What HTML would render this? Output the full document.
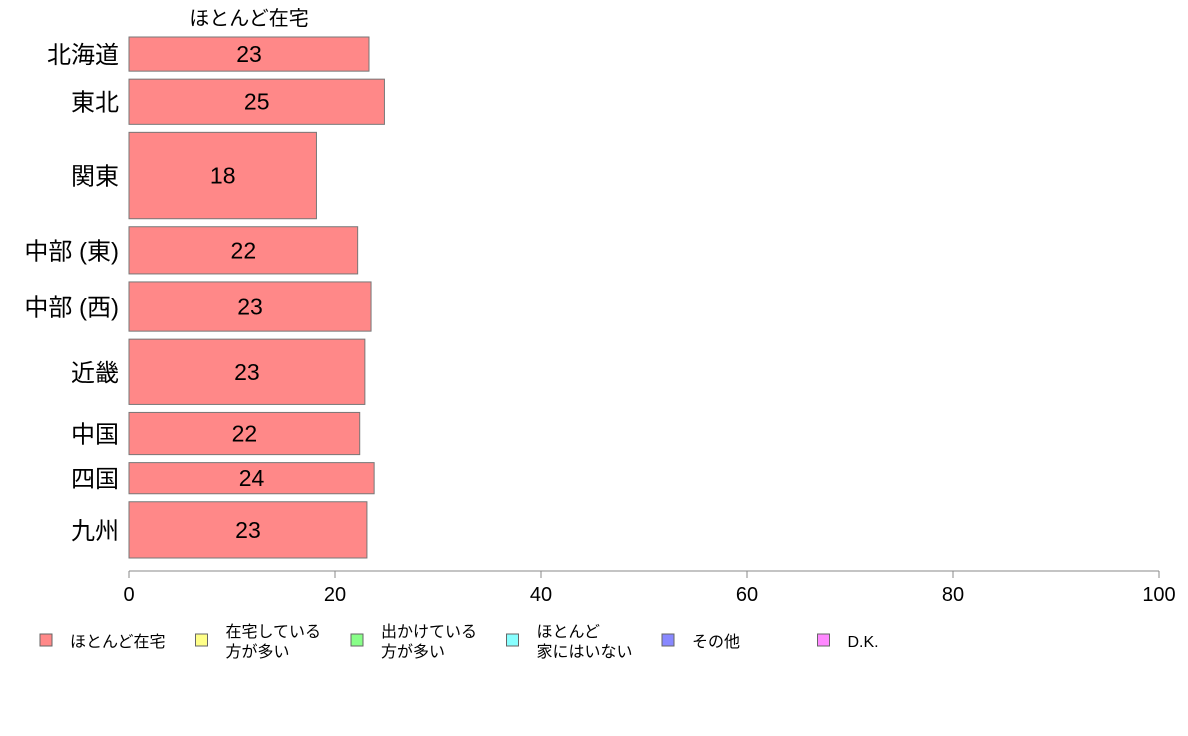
<!DOCTYPE html>
<html><head><meta charset="utf-8">
<style>
body{margin:0;background:#fff;}
svg{display:block;font-family:"Liberation Sans","Noto Sans CJK JP",sans-serif;}
</style></head>
<body>
<svg id="chart" width="1188" height="736">
<text x="249" y="25" text-anchor="middle" font-size="20">ほとんど在宅</text>
<g id="bars"></g>
<g id="axis"></g>
<g id="legend"></g>
</svg>
<script>
const categories = ["北海道","東北","関東","中部 (東)","中部 (西)","近畿","中国","四国","九州"];
const values = [23.3,24.8,18.2,22.2,23.5,22.9,22.4,23.8,23.1];
const labels = ["23","25","18","22","23","23","22","24","23"];
const sampleSizes = [34,45,86,47,49,65,42,31,56];
const ticks = [0,20,40,60,80,100];
const legendLabels = [["ほとんど在宅"],["在宅している","方が多い"],["出かけている","方が多い"],["ほとんど","家にはいない"],["その他"],["D.K."]];
const legendColors = ["#ff8888","#ffff88","#88ff88","#88ffff","#8888ff","#ff88ff"];

const NS="http://www.w3.org/2000/svg";
const x0=129,x1=1159,yTop=37,yBot=558,gap=8;
const xs=v=>x0+(v/100)*(x1-x0);
const total=sampleSizes.reduce((a,b)=>a+b,0);
const avail=(yBot-yTop)-gap*(categories.length-1);
const bars=document.getElementById('bars');
let y=yTop;
categories.forEach((c,i)=>{
  const h=sampleSizes[i]/total*avail;
  const r=document.createElementNS(NS,'rect');
  r.setAttribute('x',x0);r.setAttribute('y',y);
  r.setAttribute('width',xs(values[i])-x0);r.setAttribute('height',h);
  r.setAttribute('fill','#ff8888');r.setAttribute('stroke','#777');
  
  
  bars.appendChild(r);
  const t=document.createElementNS(NS,'text');
  t.setAttribute('x',(x0+xs(values[i]))/2);t.setAttribute('y',y+h/2+8);
  t.setAttribute('text-anchor','middle');t.setAttribute('font-size','23');
  t.textContent=labels[i];
  
  
  bars.appendChild(t);
  const l=document.createElementNS(NS,'text');
  l.setAttribute('x',119);l.setAttribute('y',y+h/2+9);
  l.setAttribute('text-anchor','end');l.setAttribute('font-size','24');
  l.textContent=c;
  
  
  bars.appendChild(l);
  y+=h+gap;
});
const ax=document.getElementById('axis');
const line=document.createElementNS(NS,'line');
line.setAttribute('x1',x0);line.setAttribute('x2',x1);line.setAttribute('y1',571);line.setAttribute('y2',571);
line.setAttribute('stroke','#888');


ax.appendChild(line);
ticks.forEach(v=>{
  const tk=document.createElementNS(NS,'line');
  tk.setAttribute('x1',xs(v));tk.setAttribute('x2',xs(v));tk.setAttribute('y1',571);tk.setAttribute('y2',578);
  tk.setAttribute('stroke','#888');
  
  
  ax.appendChild(tk);
  const t=document.createElementNS(NS,'text');
  t.setAttribute('x',xs(v));t.setAttribute('y',601);t.setAttribute('text-anchor','middle');t.setAttribute('font-size','20');
  t.textContent=v;
  
  
  ax.appendChild(t);
});
const lg=document.getElementById('legend');
legendLabels.forEach((lab,i)=>{
  const bx=40+i*155.5;
  const r=document.createElementNS(NS,'rect');
  r.setAttribute('x',bx);r.setAttribute('y',634);r.setAttribute('width',12);r.setAttribute('height',12);
  r.setAttribute('fill',legendColors[i]);r.setAttribute('stroke','#666');
  
  
  lg.appendChild(r);
  lab.forEach((s,j)=>{
    const t=document.createElementNS(NS,'text');
    t.setAttribute('x',bx+30);
    t.setAttribute('y',lab.length===1?647:637+j*20);
    t.setAttribute('font-size','16');
    t.textContent=s;
    
    
    lg.appendChild(t);
  });
});
</script>
</body></html>
